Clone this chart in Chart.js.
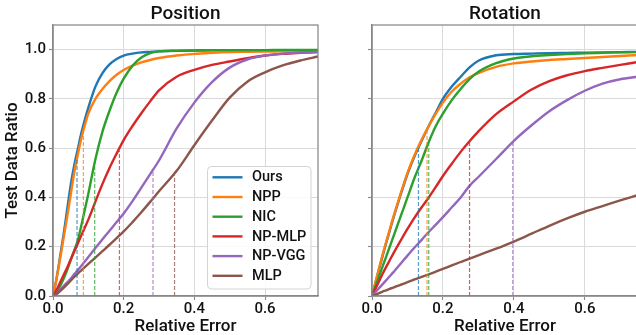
<!DOCTYPE html>
<html><head><meta charset="utf-8">
<script src="https://cdn.jsdelivr.net/npm/chart.js@4.4.0/dist/chart.umd.min.js"></script>
<style>
html,body{margin:0;padding:0;background:#fff;overflow:hidden;width:636px;height:335px;position:relative;}
#wrapL{position:absolute;left:0;top:0;width:330px;height:335px;}
#wrapR{position:absolute;left:330px;top:0;width:310px;height:335px;}
canvas{display:block;}
</style></head><body>
<div id="wrapL"><canvas id="cL" width="330" height="335"></canvas></div>
<div id="wrapR"><canvas id="cR" width="310" height="335"></canvas></div>
<script>
// ---- data ----
const methods = ['Ours','NPP','NIC','NP-MLP','NP-VGG','MLP'];
const colors  = ['#1f77b4','#ff7f0e','#2ca02c','#d62728','#9467bd','#8c564b'];
const errorGrid = [0,.01,.02,.03,.04,.05,.06,.07,.08,.09,.10,.12,.14,.16,.18,.20,.225,.25,.275,.30,.35,.40,.45,.50,.55,.60,.65,.70,.75];
const xTicks = [0,0.2,0.4,0.6];
const yTicks = [0,0.2,0.4,0.6,0.8,1.0];

// Position panel
const posOurs  = [0,.07,.16,.25,.35,.45,.53,.595,.66,.715,.765,.85,.905,.94,.962,.976,.984,.989,.991,.993,.995,.996,.997,.997,.998,.998,.998,.998,.998];
const posNPP   = [0,.07,.15,.235,.32,.41,.50,.572,.638,.693,.74,.80,.84,.872,.898,.917,.935,.948,.958,.966,.976,.983,.987,.99,.991,.992,.993,.994,.995];
const posNIC   = [0,.015,.04,.07,.105,.145,.185,.225,.285,.35,.415,.555,.667,.752,.825,.882,.935,.968,.986,.993,.996,.997,.998,.998,.998,.998,.999,.999,.999];
const posNPMLP = [0,.025,.055,.085,.115,.148,.18,.212,.245,.278,.31,.383,.455,.52,.578,.633,.69,.742,.79,.835,.89,.918,.938,.952,.965,.976,.983,.987,.99];
const posNPVGG = [0,.01,.025,.04,.055,.07,.088,.105,.122,.14,.158,.195,.23,.265,.30,.335,.385,.44,.495,.55,.68,.785,.868,.927,.96,.976,.984,.988,.99];
const posMLP   = [0,.008,.02,.033,.047,.062,.077,.091,.104,.117,.13,.156,.182,.208,.235,.262,.30,.34,.382,.425,.508,.612,.712,.805,.87,.908,.936,.956,.972];
const posMarkX = [0.068,0.086,0.118,0.188,0.283,0.344];
const posMarkY = [0.56,0.66,0.55,0.59,0.505,0.49];

// Rotation panel
const rotOurs  = [0,.055,.11,.163,.215,.265,.315,.362,.408,.452,.495,.567,.63,.69,.745,.80,.85,.89,.928,.955,.977,.982,.984,.986,.987,.988,.989,.99,.991];
const rotNPP   = [0,.057,.113,.168,.22,.27,.32,.367,.413,.457,.50,.572,.635,.69,.74,.785,.83,.862,.888,.905,.93,.944,.952,.958,.962,.966,.97,.974,.978];
const rotNIC   = [0,.04,.08,.12,.16,.2,.24,.28,.32,.36,.40,.48,.55,.625,.69,.74,.795,.84,.88,.91,.945,.964,.973,.978,.982,.985,.987,.989,.99];
const rotNPMLP = [0,.03,.06,.09,.118,.145,.172,.198,.223,.248,.272,.318,.36,.40,.443,.487,.537,.585,.628,.668,.738,.79,.838,.872,.896,.913,.926,.938,.95];
const rotNPVGG = [0,.016,.032,.048,.064,.08,.096,.113,.13,.147,.164,.197,.228,.26,.29,.32,.36,.40,.447,.483,.556,.63,.693,.75,.795,.833,.862,.88,.89];
const rotMLP   = [0,.006,.012,.018,.023,.029,.034,.04,.045,.05,.056,.067,.078,.088,.099,.11,.124,.138,.152,.165,.192,.221,.253,.285,.315,.342,.365,.388,.41];
const rotMarkX = [0.131,0.155,0.16,0.275,0.397,null];
const rotMarkY = [0.60,0.675,0.62,0.633,0.63,null];

// ---- helpers ----
const FONT = 'Roboto';
const FW = '500';
const TXT = '#111111';
const SPINE = '#888888';
const GRID = '#dadada';

function hexA(hex, a){
  const n = parseInt(hex.slice(1),16);
  return `rgba(${(n>>16)&255},${(n>>8)&255},${n&255},${a})`;
}

function buildDatasets(series, markX, markY){
  const ds = [];
  series.forEach((vals, i) => {
    ds.push({
      label: methods[i],
      data: errorGrid.map((x, k) => ({x: x, y: vals[k]})),
      borderColor: colors[i],
      backgroundColor: colors[i],
      borderWidth: 2.4,
      pointRadius: 0,
      fill: false,
      cubicInterpolationMode: 'monotone',
      order: 10 - i
    });
  });
  markX.forEach((mx, i) => {
    if (mx === null) return;
    ds.push({
      label: '_mark' + i,
      data: [{x: mx, y: 0}, {x: mx, y: markY[i]}],
      borderColor: hexA(colors[i], 0.75),
      borderWidth: 1.2,
      borderDash: [4, 2],
      pointRadius: 0,
      fill: false,
      order: 0
    });
  });
  return ds;
}

const framePlugin = {
  id: 'frame',
  afterDatasetsDraw(chart){
    const {ctx, chartArea: a} = chart;
    ctx.save();
    ctx.strokeStyle = SPINE;
    ctx.lineWidth = 1.25;
    ctx.strokeRect(a.left, a.top, a.right - a.left, a.bottom - a.top);
    ctx.restore();
  }
};

const titlePlugin = {
  id: 'panelTitle',
  afterDraw(chart, args, opts){
    const {ctx, chartArea: a} = chart;
    ctx.save();
    ctx.font = `${FW} 19px ${FONT}`;
    ctx.fillStyle = TXT;
    ctx.textAlign = 'center';
    ctx.textBaseline = 'middle';
    ctx.fillText(opts.text, (a.left + a.right) / 2, 14);
    ctx.restore();
  }
};

const legendPlugin = {
  id: 'boxLegend',
  afterDraw(chart, args, opts){
    if (!opts.show) return;
    const {ctx, chartArea: a} = chart;
    const w = 103.5, h = 122.5;
    const x0 = a.right - 7 - w, y0 = a.bottom - 7 - h;
    ctx.save();
    ctx.beginPath();
    if (ctx.roundRect) ctx.roundRect(x0, y0, w, h, 4); else ctx.rect(x0, y0, w, h);
    ctx.fillStyle = 'rgba(255,255,255,0.85)';
    ctx.fill();
    ctx.strokeStyle = '#d4d4d4';
    ctx.lineWidth = 1;
    ctx.stroke();
    ctx.font = `${FW} 14.5px ${FONT}`;
    ctx.textBaseline = 'middle';
    ctx.textAlign = 'left';
    methods.forEach((m, i) => {
      const yy = y0 + 10.8 + i * 19.7;
      ctx.strokeStyle = colors[i];
      ctx.lineWidth = 2.4;
      ctx.beginPath();
      ctx.moveTo(x0 + 5, yy);
      ctx.lineTo(x0 + 35, yy);
      ctx.stroke();
      ctx.fillStyle = TXT;
      ctx.fillText(m, x0 + 44.5, yy + 0.5);
    });
    ctx.restore();
  }
};

function makeChart(canvasId, series, markX, markY, title, isLeft){
  const yWidth = isLeft ? 53 : 42;
  return new Chart(document.getElementById(canvasId), {
    type: 'line',
    data: { datasets: buildDatasets(series, markX, markY) },
    plugins: [framePlugin, titlePlugin, legendPlugin],
    options: {
      responsive: false,
      animation: false,
      devicePixelRatio: 1,
      layout: { padding: { left: 0, right: isLeft ? 12 : 2, top: 25, bottom: 0 } },
      plugins: {
        legend: { display: false },
        tooltip: { enabled: false },
        panelTitle: { text: title },
        boxLegend: { show: isLeft }
      },
      scales: {
        x: {
          type: 'linear',
          min: 0, max: 0.75,
          afterBuildTicks: ax => { ax.ticks = xTicks.map(v => ({value: v})); },
          afterFit: sc => { sc.height = 39; },
          grid: { color: GRID, lineWidth: 1, drawTicks: true, tickLength: 4, tickColor: SPINE, tickWidth: 1.1 },
          border: { display: true, color: SPINE, width: 1.25 },
          ticks: { color: TXT, font: { family: FONT, size: 15, weight: FW }, padding: 0, maxRotation: 0,
                   callback: v => Number(v).toFixed(1) },
          title: { display: true, text: 'Relative Error', color: TXT,
                   font: { family: FONT, size: 17, weight: FW, lineHeight: 1 }, padding: { top: 0, bottom: 0 } }
        },
        y: {
          type: 'linear',
          min: 0, max: 1.1,
          afterBuildTicks: ax => { ax.ticks = yTicks.map(v => ({value: v})); },
          afterFit: sc => { sc.width = yWidth; },
          grid: { color: GRID, lineWidth: 1, drawTicks: true, tickLength: 4, tickColor: SPINE, tickWidth: 1.1 },
          border: { display: true, color: SPINE, width: 1.25 },
          ticks: { color: TXT, font: { family: FONT, size: 15, weight: FW }, padding: 3,
                   callback: v => isLeft ? Number(v).toFixed(1) : '' },
          title: { display: isLeft, text: 'Test Data Ratio', color: TXT,
                   font: { family: FONT, size: 17, weight: FW, lineHeight: 1 }, padding: { top: 4, bottom: 0 } }
        }
      }
    }
  });
}

function draw(){
  makeChart('cL', [posOurs, posNPP, posNIC, posNPMLP, posNPVGG, posMLP], posMarkX, posMarkY, 'Position', true);
  makeChart('cR', [rotOurs, rotNPP, rotNIC, rotNPMLP, rotNPVGG, rotMLP], rotMarkX, rotMarkY, 'Rotation', false);
}
if (document.fonts && document.fonts.load) {
  Promise.all([document.fonts.load('500 15px Roboto'), document.fonts.load('500 19px Roboto')]).then(draw, draw);
} else { draw(); }
</script>
</body></html>
